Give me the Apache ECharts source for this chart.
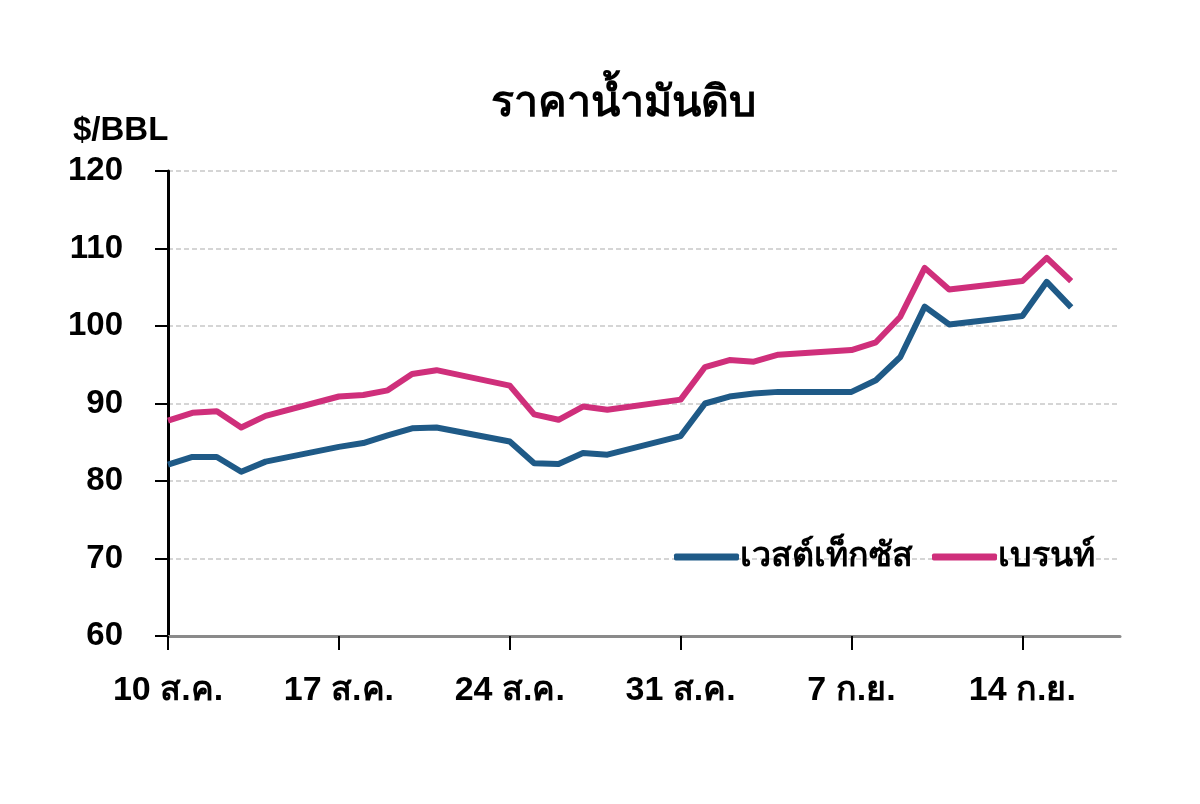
<!DOCTYPE html>
<html>
<head>
<meta charset="utf-8">
<script src="https://cdn.jsdelivr.net/npm/echarts@6/dist/echarts.min.js"></script>
<style>
html,body{margin:0;padding:0;background:#fff;}
#chart{width:1200px;height:804px;}
</style>
</head>
<body>
<div id="chart"></div>
<script>
// Daily categories, 10 Aug – 18 Sep
const categories = [
  '10 ส.ค.','11 ส.ค.','12 ส.ค.','13 ส.ค.','14 ส.ค.','15 ส.ค.','16 ส.ค.',
  '17 ส.ค.','18 ส.ค.','19 ส.ค.','20 ส.ค.','21 ส.ค.','22 ส.ค.','23 ส.ค.',
  '24 ส.ค.','25 ส.ค.','26 ส.ค.','27 ส.ค.','28 ส.ค.','29 ส.ค.','30 ส.ค.',
  '31 ส.ค.','1 ก.ย.','2 ก.ย.','3 ก.ย.','4 ก.ย.','5 ก.ย.','6 ก.ย.',
  '7 ก.ย.','8 ก.ย.','9 ก.ย.','10 ก.ย.','11 ก.ย.','12 ก.ย.','13 ก.ย.',
  '14 ก.ย.','15 ก.ย.','16 ก.ย.','17 ก.ย.','18 ก.ย.'
];
// Trading-day values (weekends = null)
const wti = [
  82.1, 83.1, 83.1, 81.2, 82.5, null, null,
  84.4, 84.9, 85.9, 86.8, 86.9, null, null,
  85.1, 82.3, 82.2, 83.6, 83.4, null, null,
  85.8, 90.0, 90.9, 91.3, 91.5, null, null,
  91.5, 93.0, 96.0, 102.5, 100.2, null, null,
  101.3, 105.7, 102.4, null, null
];
const brent = [
  87.8, 88.8, 89.0, 86.9, 88.4, null, null,
  90.9, 91.1, 91.7, 93.8, 94.3, null, null,
  92.3, 88.6, 87.9, 89.6, 89.2, null, null,
  90.5, 94.7, 95.6, 95.4, 96.3, null, null,
  96.9, 97.9, 101.2, 107.5, 104.7, null, null,
  105.8, 108.8, 105.8, null, null
];
const seriesNames = ['เวสต์เท็กซัส', 'เบรนท์'];
const titleText = 'ราคาน้ำมันดิบ';
const unitText = '$/BBL';

const FONT = '"Liberation Sans", Arial, "Noto Sans", sans-serif';
const chart = echarts.init(document.getElementById('chart'));
chart.setOption({
  backgroundColor: '#ffffff',
  animation: false,
  textStyle: { fontFamily: FONT },
  title: [
    { text: titleText, left: 486, top: 78,
      textStyle: { fontSize: 43, fontWeight: 'bold', color: '#000', fontFamily: FONT } },
    { text: unitText, left: 68, top: 109,
      textStyle: { fontSize: 33, fontWeight: 'bold', color: '#000', fontFamily: FONT } }
  ],
  legend: {
    right: 100, top: 535,
    itemWidth: 65, itemHeight: 7, itemGap: 19,
    icon: 'roundRect',
    data: seriesNames,
    textStyle: { fontSize: 34, fontWeight: 'bold', color: '#000', fontFamily: FONT, padding: [0,0,0,-4] }
  },
  grid: { left: 168, right: 80, top: 171, bottom: 168, containLabel: false },
  xAxis: {
    type: 'category',
    data: categories,
    boundaryGap: false,
    axisLine: { show: true, lineStyle: { color: '#8a8a8a', width: 3 } },
    axisTick: { show: true, interval: 6, length: 14, lineStyle: { color: '#000', width: 2 } },
    axisLabel: { interval: 6, margin: 38, fontSize: 34, fontWeight: 'bold', color: '#000', fontFamily: FONT },
    splitLine: { show: false }
  },
  yAxis: {
    type: 'value',
    min: 60, max: 120, interval: 10,
    axisLine: { show: true, lineStyle: { color: '#000', width: 3 } },
    axisTick: { show: true, length: 13, lineStyle: { color: '#000', width: 2 } },
    axisLabel: { margin: 45, fontSize: 33, fontWeight: 'bold', color: '#000', fontFamily: FONT },
    splitLine: { show: true, lineStyle: { color: '#c8c8c8', type: [5, 3], width: 1.5 } }
  },
  series: [
    { name: seriesNames[0], type: 'line', data: wti, connectNulls: true, showSymbol: false,
      color: '#1f5a87', lineStyle: { width: 6, color: '#1f5a87', join: 'round' } },
    { name: seriesNames[1], type: 'line', data: brent, connectNulls: true, showSymbol: false,
      color: '#cf2f7b', lineStyle: { width: 6, color: '#cf2f7b', join: 'round' } }
  ]
});
</script>
</body>
</html>
